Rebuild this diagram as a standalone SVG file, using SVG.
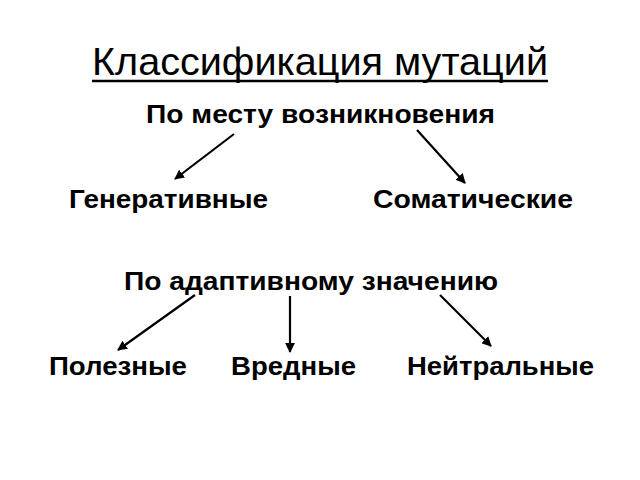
<svg xmlns="http://www.w3.org/2000/svg" width="640" height="480" viewBox="0 0 640 480">
<defs>
<marker id="ah" viewBox="0 0 10 10" refX="9" refY="5" markerWidth="4.5" markerHeight="4.5" orient="auto" markerUnits="strokeWidth">
<path d="M0,0 L10,5 L0,10 z" fill="#000"/>
</marker>
<style>
.t{font-family:"Liberation Sans",Arial,sans-serif;fill:#000}
.b{font-weight:bold;font-size:25.5px}
.c{stroke:#000;stroke-width:2.2;fill:none;marker-end:url(#ah)}
</style>
</defs>
<rect width="640" height="480" fill="#fff"/>
<g id="title">
<text class="t" x="92" y="74.5" font-size="39" textLength="456" lengthAdjust="spacingAndGlyphs">Классификация мутаций</text>
<line x1="92" y1="81" x2="548" y2="81" stroke="#000" stroke-width="2.5"/>
</g>
<g id="n-mesto"><text class="t b" x="146" y="123" textLength="349" lengthAdjust="spacingAndGlyphs">По месту возникновения</text></g>
<g id="n-gen"><text class="t b" x="69" y="208" textLength="199" lengthAdjust="spacingAndGlyphs">Генеративные</text></g>
<g id="n-som"><text class="t b" x="373" y="208" textLength="200" lengthAdjust="spacingAndGlyphs">Соматические</text></g>
<g id="n-adapt"><text class="t b" x="124" y="290" textLength="374" lengthAdjust="spacingAndGlyphs">По адаптивному значению</text></g>
<g id="n-pol"><text class="t b" x="49" y="375" textLength="138" lengthAdjust="spacingAndGlyphs">Полезные</text></g>
<g id="n-vred"><text class="t b" x="231" y="375" textLength="125" lengthAdjust="spacingAndGlyphs">Вредные</text></g>
<g id="n-neit"><text class="t b" x="407" y="375" textLength="187" lengthAdjust="spacingAndGlyphs">Нейтральные</text></g>
<g id="connectors">
<line class="c" x1="234" y1="134" x2="175" y2="179"/>
<line class="c" x1="417" y1="130" x2="465" y2="183"/>
<line class="c" x1="195" y1="295" x2="118" y2="350"/>
<line class="c" x1="290" y1="296" x2="290" y2="352"/>
<line class="c" x1="440" y1="295" x2="491" y2="346"/>
</g>
</svg>
